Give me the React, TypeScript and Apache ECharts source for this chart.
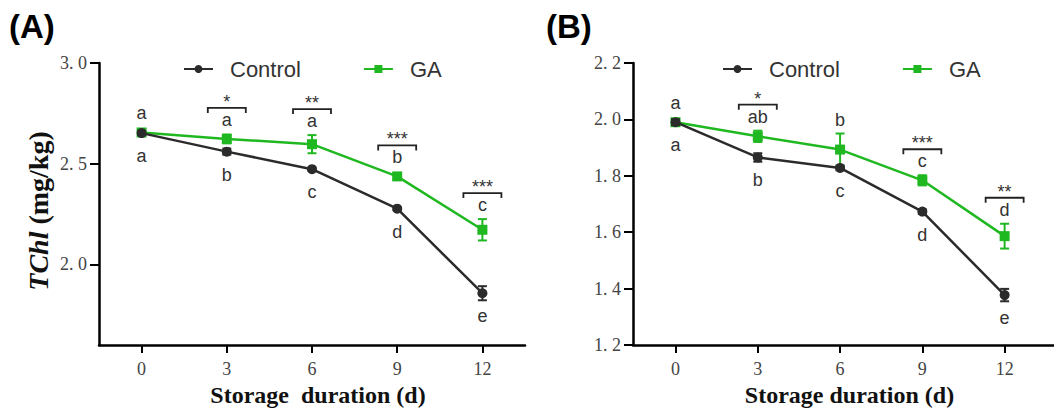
import React, { useEffect, useRef } from "react";
import * as echarts from "echarts";

const days = [0, 3, 6, 9, 12];

const controlA = [2.652, 2.56, 2.473, 2.277, 1.857];
const controlAErr = [0.01, 0.015, 0.008, 0.008, 0.035];
const gaA = [2.655, 2.623, 2.597, 2.437, 2.172];
const gaAErr = [0.01, 0.022, 0.045, 0.015, 0.053];

const controlB = [1.99, 1.865, 1.828, 1.673, 1.377];
const controlBErr = [0.01, 0.015, 0.008, 0.008, 0.022];
const gaB = [1.99, 1.94, 1.893, 1.784, 1.586];
const gaBErr = [0.01, 0.02, 0.057, 0.018, 0.044];

const upperA = ["a", "a", "a", "b", "c"];
const lowerA = ["a", "b", "c", "d", "e"];
const sigA = ["", "*", "**", "***", "***"];
const upperB = ["a", "ab", "b", "c", "d"];
const lowerB = ["a", "b", "c", "d", "e"];
const sigB = ["", "*", "", "***", "**"];

const yTicksA = [2.0, 2.5, 3.0];
const yTicksB = [1.2, 1.4, 1.6, 1.8, 2.0, 2.2];

const CTRL = "#2b2b2b";
const GREEN = "#20b820";
const TXT = "#333";

const fmt = (v: number) => v.toFixed(1).replace(".", ". ");

function errSeries(vals: number[], errs: number[], color: string, ai: number, z: number) {
  return {
    type: "custom",
    xAxisIndex: ai,
    yAxisIndex: ai,
    z,
    silent: true,
    clip: false,
    data: days.map((d, i) => [d, vals[i]]),
    renderItem: (params: any, api: any) => {
      const i = params.dataIndex;
      const top = api.coord([days[i], vals[i] + errs[i]]);
      const bot = api.coord([days[i], vals[i] - errs[i]]);
      const w = 4.5;
      const st = { stroke: color, lineWidth: 2 };
      return {
        type: "group",
        children: [
          { type: "line", shape: { x1: top[0], y1: top[1], x2: bot[0], y2: bot[1] }, style: st },
          { type: "line", shape: { x1: top[0] - w, y1: top[1], x2: top[0] + w, y2: top[1] }, style: st },
          { type: "line", shape: { x1: bot[0] - w, y1: bot[1], x2: bot[0] + w, y2: bot[1] }, style: st },
        ],
      };
    },
  };
}

function annSeries(
  ga: number[], gaErr: number[], ctrl: number[], ctrlErr: number[],
  up: string[], low: string[], sig: string[], ai: number
) {
  return {
    type: "custom",
    xAxisIndex: ai,
    yAxisIndex: ai,
    z: 10,
    silent: true,
    clip: false,
    data: days.map((d, i) => [d, ga[i]]),
    renderItem: (params: any, api: any) => {
      const i = params.dataIndex;
      const p = api.coord([days[i], ga[i]]);
      const et = api.coord([days[i], ga[i] + gaErr[i]]);
      const c = api.coord([days[i], ctrl[i]]);
      const cb = api.coord([days[i], ctrl[i] - ctrlErr[i]]);
      const x = p[0];
      const ly = Math.min(p[1] - 19, et[1] - 14);
      const lowY = Math.max(c[1] + 23, cb[1] + 16);
      const font = '18px "Liberation Sans", Arial, sans-serif';
      const children: any[] = [
        { type: "text", style: { text: up[i], x, y: ly, font, fill: TXT, align: "center", verticalAlign: "middle" } },
        { type: "text", style: { text: low[i], x, y: lowY, font, fill: TXT, align: "center", verticalAlign: "middle" } },
      ];
      if (sig[i]) {
        const by = ly - 12;
        children.push({
          type: "polyline",
          shape: { points: [[x - 19, by + 5], [x - 19, by], [x + 19, by], [x + 19, by + 5]] },
          style: { stroke: "#222", fill: null, lineWidth: 1.8 },
        });
        children.push({
          type: "text",
          style: { text: sig[i], x, y: by - 6, font, fill: TXT, align: "center", verticalAlign: "middle" },
        });
      }
      return { type: "group", children };
    },
  };
}

function lineSeries(name: string, vals: number[], color: string, symbol: string, ai: number, z: number) {
  return {
    name,
    type: "line",
    xAxisIndex: ai,
    yAxisIndex: ai,
    z,
    data: days.map((d, i) => [d, vals[i]]),
    symbol,
    symbolSize: 10,
    showSymbol: true,
    lineStyle: { color, width: 2.5 },
    itemStyle: { color },
  };
}

const axisLine = { show: true, onZero: false, lineStyle: { color: "#000", width: 2.5 } };
const tickLab = { fontFamily: '"Liberation Serif", "Times New Roman", serif', fontSize: 18, color: "#444" };

function xAxis(ai: number, min: number, max: number, name: string) {
  return {
    type: "value",
    gridIndex: ai,
    min,
    max,
    axisLine,
    splitLine: { show: false },
    axisTick: { show: true, length: 8, lineStyle: { color: "#000", width: 2 }, customValues: days },
    axisLabel: { ...tickLab, margin: 15, customValues: days },
    name,
    nameLocation: "middle",
    nameGap: 38,
    nameTextStyle: {
      fontFamily: '"Liberation Serif", "Times New Roman", serif',
      fontWeight: "bold",
      fontSize: 24,
      color: "#111",
      padding: [0, 0, 0, 12],
    },
  };
}

function yAxis(ai: number, min: number, max: number, ticks: number[], withName: boolean) {
  const ax: any = {
    type: "value",
    gridIndex: ai,
    min,
    max,
    axisLine,
    splitLine: { show: false },
    axisTick: { show: true, length: 9, lineStyle: { color: "#000", width: 2 }, customValues: ticks },
    axisLabel: { ...tickLab, margin: 12, customValues: ticks, formatter: (v: number) => fmt(v) },
  };
  if (withName) {
    ax.name = "{i|TChl} (mg/kg)";
    ax.nameLocation = "middle";
    ax.nameGap = 47;
    ax.nameRotate = 90;
    ax.nameTextStyle = {
      fontFamily: '"Liberation Serif", "Times New Roman", serif',
      fontWeight: "bold",
      fontSize: 28,
      color: "#111",
      padding: [0, 14, 0, 0],
      rich: {
        i: {
          fontFamily: '"Liberation Serif", "Times New Roman", serif',
          fontWeight: "bold",
          fontStyle: "italic",
          fontSize: 28,
          color: "#111",
        },
      },
    };
  }
  return ax;
}

function legend(left: number) {
  return {
    left,
    top: 58,
    padding: 0,
    orient: "horizontal",
    itemWidth: 29,
    itemHeight: 10,
    itemGap: 62,
    selectedMode: false,
    data: ["Control", "GA"],
    textStyle: {
      fontFamily: '"Liberation Sans", Arial, sans-serif',
      fontSize: 22,
      color: TXT,
      padding: [0, 0, 0, 12],
    },
  };
}

export default function App() {
  const ref = useRef<HTMLDivElement>(null);
  useEffect(() => {
    if (!ref.current) return;
    const chart = echarts.init(ref.current, undefined, { renderer: "svg" });
    chart.setOption({
      animation: false,
      backgroundColor: "#fff",
      title: [
        {
          text: "(A)",
          left: 9,
          top: 10,
          padding: 0,
          textStyle: { fontFamily: '"Liberation Sans", Arial, sans-serif', fontWeight: "bold", fontSize: 33, color: "#000" },
        },
        {
          text: "(B)",
          left: 546,
          top: 10,
          padding: 0,
          textStyle: { fontFamily: '"Liberation Sans", Arial, sans-serif', fontWeight: "bold", fontSize: 33, color: "#000" },
        },
      ],
      legend: [legend(183), legend(722)],
      grid: [
        { left: 99, top: 63, width: 426, height: 282 },
        { left: 633, top: 63, width: 421, height: 282 },
      ],
      xAxis: [xAxis(0, -1.5, 13.5, "Storage  duration (d)"), xAxis(1, -1.55, 13.8, "Storage duration (d)")],
      yAxis: [yAxis(0, 1.6, 3.0, yTicksA, true), yAxis(1, 1.2, 2.2, yTicksB, false)],
      series: [
        errSeries(gaA, gaAErr, GREEN, 0, 3),
        lineSeries("GA", gaA, GREEN, "rect", 0, 4),
        errSeries(controlA, controlAErr, CTRL, 0, 5),
        lineSeries("Control", controlA, CTRL, "circle", 0, 6),
        annSeries(gaA, gaAErr, controlA, controlAErr, upperA, lowerA, sigA, 0),
        errSeries(gaB, gaBErr, GREEN, 1, 3),
        lineSeries("GA", gaB, GREEN, "rect", 1, 4),
        errSeries(controlB, controlBErr, CTRL, 1, 5),
        lineSeries("Control", controlB, CTRL, "circle", 1, 6),
        annSeries(gaB, gaBErr, controlB, controlBErr, upperB, lowerB, sigB, 1),
      ],
    });
    return () => chart.dispose();
  }, []);
  return <div ref={ref} style={{ position: "absolute", left: 0, top: 0, width: 1054, height: 416 }} />;
}
